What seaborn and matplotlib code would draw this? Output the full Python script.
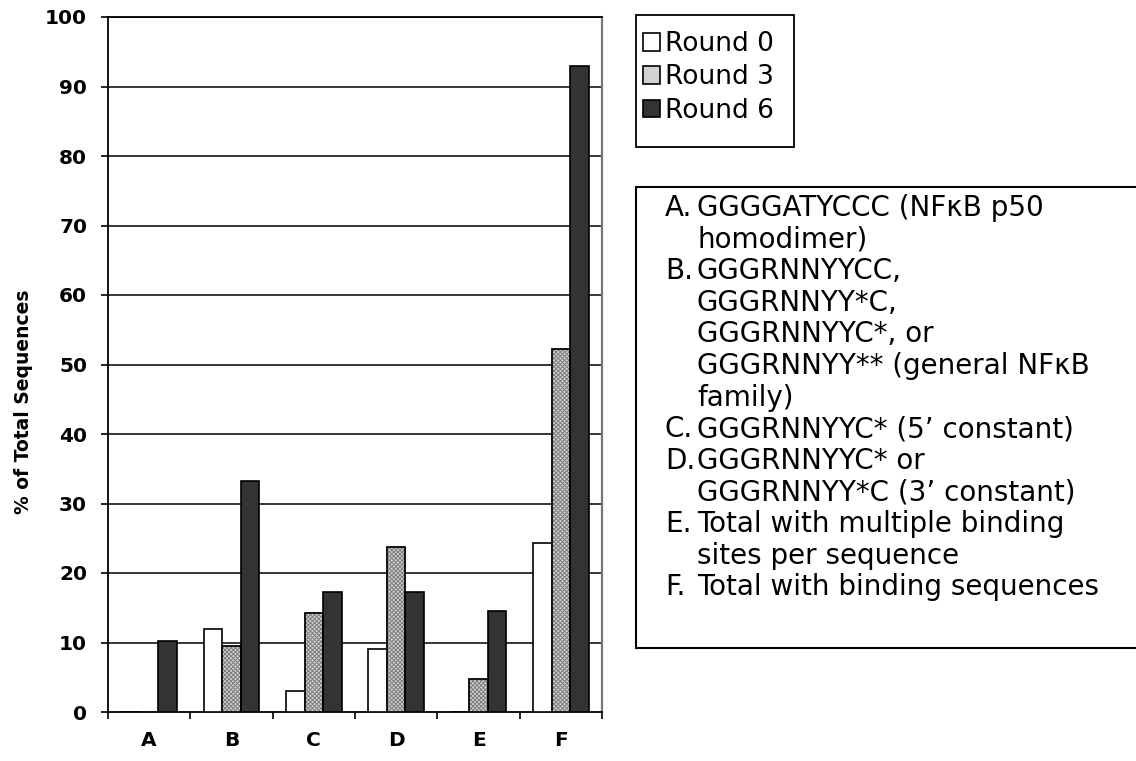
import matplotlib
matplotlib.use("Agg")
import matplotlib.pyplot as plt
from matplotlib.patches import Rectangle
from matplotlib.ticker import FixedLocator
import seaborn as sns
import pandas as pd

# Motif categories and the share of sequences per selection round
categories = ["A", "B", "C", "D", "E", "F"]
round_names = ["Round 0", "Round 3", "Round 6"]
round0 = [0.0, 12.0, 3.0, 9.0, 0.0, 24.3]
round3 = [0.0, 9.5, 14.3, 23.8, 4.7, 52.3]
round6 = [10.2, 33.3, 17.3, 17.3, 14.5, 92.9]
y_ticks = [0, 10, 20, 30, 40, 50, 60, 70, 80, 90, 100]

# Key to the category letters (one list of wrapped lines per entry)
key_letters = ["A.", "B.", "C.", "D.", "E.", "F."]
key_lines = [
    ["GGGGATYCCC (NF\u03baB p50", "homodimer)"],
    ["GGGRNNYYCC,", "GGGRNNYY*C,", "GGGRNNYYC*, or",
     "GGGRNNYY** (general NF\u03baB", "family)"],
    ["GGGRNNYYC* (5\u2019 constant)"],
    ["GGGRNNYYC* or", "GGGRNNYY*C (3\u2019 constant)"],
    ["Total with multiple binding", "sites per sequence"],
    ["Total with binding sequences"],
]

df = pd.DataFrame({
    "Category": categories * 3,
    "Round": [round_names[0]] * 6 + [round_names[1]] * 6 + [round_names[2]] * 6,
    "Percent": round0 + round3 + round6,
})

sns.set_theme(style="white")
plt.rcParams["font.family"] = ["DejaVu Sans"]
plt.rcParams["text.color"] = "black"
plt.rcParams["axes.labelcolor"] = "black"
plt.rcParams["xtick.color"] = "black"
plt.rcParams["ytick.color"] = "black"
plt.rcParams["hatch.linewidth"] = 0.7

W, H = 1136, 761
fig = plt.figure(figsize=(W / 100, H / 100), dpi=100)
fig.patch.set_facecolor("white")


def fx(px):
    return px / W


def fy(py):
    return 1 - py / H


ax = fig.add_axes([fx(108), fy(712), fx(602) - fx(108), fy(17) - fy(712)])

palette = {"Round 0": "#ffffff", "Round 3": "#d2d2d2", "Round 6": "#333333"}
sns.barplot(data=df, x="Category", y="Percent", hue="Round", order=categories,
            hue_order=round_names, palette=palette, width=0.68, dodge=True,
            edgecolor="black", linewidth=1.2, saturation=1, ax=ax, zorder=3,
            legend=True)

# Stippled fill for the middle round: grey hatch, then a black outline on top
for bar in ax.containers[1]:
    bar.set_hatch("xxxxxxxx")
    bar.set_edgecolor("#7e7e7e")
    ax.add_patch(Rectangle((bar.get_x(), bar.get_y()), bar.get_width(), bar.get_height(),
                           fill=False, edgecolor="black", linewidth=1.2, zorder=4))

ax.set_xlim(-0.5, 5.5)
ax.set_ylim(0, 100)
ax.set_yticks(y_ticks)
ax.set_yticklabels([str(t) for t in y_ticks], fontsize=14.5, fontweight="bold")
ax.set_xticks(range(len(categories)))
ax.set_xticklabels(categories, fontsize=14.5, fontweight="bold")
ax.xaxis.set_minor_locator(FixedLocator([i - 0.5 for i in range(len(categories) + 1)]))
ax.tick_params(axis="x", which="major", length=0, pad=14)
ax.tick_params(axis="x", which="minor", length=5, width=1.2, color="black",
               direction="out", bottom=True)
ax.tick_params(axis="y", which="major", length=5, width=1.2, color="black",
               direction="out", left=True, pad=10)
ax.set_xlabel("")
ax.set_ylabel("% of Total Sequences", fontsize=13.5, fontweight="bold")
ax.yaxis.set_label_coords(-0.152, 0.446)

for t in y_ticks[1:]:
    ax.axhline(t, color="black", linewidth=1.1, zorder=1)

for side in ["left", "bottom", "top"]:
    ax.spines[side].set_color("black")
    ax.spines[side].set_linewidth(1.3)
ax.spines["right"].set_color("#777777")
ax.spines["right"].set_linewidth(1.6)

# Series legend in its own box to the right of the plot
handles, labels = ax.get_legend_handles_labels()
ax.get_legend().remove()
fig.patches.append(Rectangle((fx(636), fy(147)), fx(794) - fx(636), fy(15) - fy(147),
                             transform=fig.transFigure, facecolor="white",
                             edgecolor="black", linewidth=1.3))
leg = fig.legend(handles, labels, loc="upper left",
                 bbox_to_anchor=(fx(643), fy(31)), frameon=False,
                 fontsize=19, handlelength=0.65, handleheight=0.65,
                 handletextpad=0.2, labelspacing=0.28, borderpad=0,
                 borderaxespad=0)

# Boxed key explaining the category letters
fig.patches.append(Rectangle((fx(636), fy(648)), fx(1150) - fx(636), fy(187) - fy(648),
                             transform=fig.transFigure, facecolor="white",
                             edgecolor="black", linewidth=1.5, clip_on=False))
line_step = 31.6
baseline0 = 216
i = 0
for letter, lines in zip(key_letters, key_lines):
    fig.text(fx(665), fy(baseline0 + i * line_step), letter, fontsize=20,
             va="baseline", ha="left")
    for line in lines:
        fig.text(fx(697), fy(baseline0 + i * line_step), line, fontsize=20,
                 va="baseline", ha="left")
        i += 1

fig.savefig("out.png", dpi=100)
